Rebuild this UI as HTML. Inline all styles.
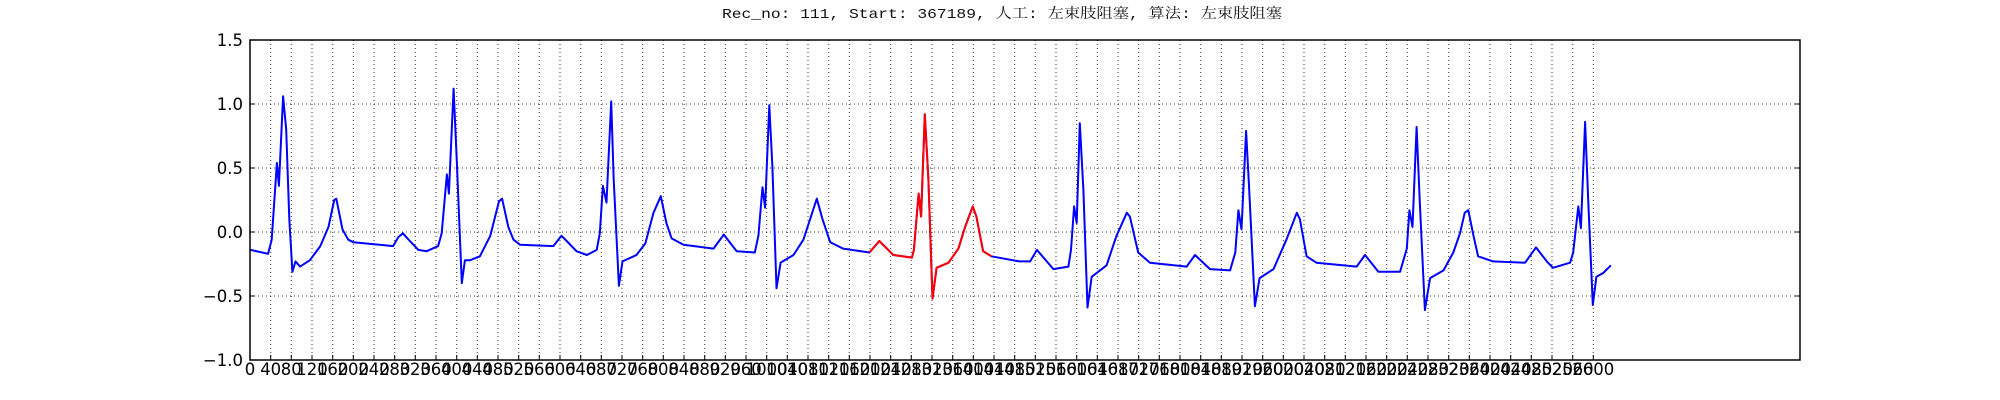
<!DOCTYPE html>
<html><head><meta charset="utf-8"><style>
html,body{margin:0;padding:0;background:#fff;}
svg{display:block;}
</style></head><body>
<svg id="chart" width="2000" height="400" viewBox="0 0 2000 400" xmlns="http://www.w3.org/2000/svg">
<rect x="0" y="0" width="2000" height="400" fill="#fff"/>
<text x="1002" y="18" text-anchor="middle" font-family="'Liberation Mono','Noto Serif CJK SC',monospace" font-size="14" fill="#111" textLength="560" lengthAdjust="spacingAndGlyphs">Rec_no: 111, Start: 367189, 人工: 左束肢阻塞, 算法: 左束肢阻塞</text>
<g id="grid"></g>
<g id="series"></g>
<rect x="250" y="40" width="1550" height="320" fill="none" stroke="#000" stroke-width="1.5"/>
<g id="axes"></g>
</svg>
<script>
const sampleIdx = [1,35,42,52,56,64,70,76,82,88,97,116,136,152,163,167,179,190,200,277,287,296,307,326,342,364,371,381,385,394,400,410,416,426,445,465,482,488,500,510,523,587,603,613,632,652,671,
677,683,690,699,704,714,721,748,765,781,795,806,816,839,897,917,942,977,
984,992,997,1005,1011,1019,1027,1052,1071,1097,1108,1123,1148,1199,1218,1245,1281,1285,1294,1299,1306,1313,1321,1329,1352,1371,1384,1399,1406,1419,1435,1489,
1510,1523,1555,1584,1589,1595,1600,1606,1613,1621,1629,1658,1677,1697,1703,1719,1742,1813,1829,1858,1897,1907,1913,1919,1928,1934,1945,1954,1981,2006,2026,2032,2045,2064,2142,2158,2184,2226,2239,2244,2250,2258,2264,2274,2284,2310,2329,2342,2351,2358,2368,2377,2406,2468,2489,2510,2522,2555,2561,2571,2576,2584,2590,2599,2606,2619,2634];
const ecgValues = [-0.14,-0.17,-0.06,0.54,0.36,1.06,0.8,0.1,-0.31,-0.23,-0.27,-0.22,-0.11,0.04,0.25,0.26,0.02,-0.06,-0.08,-0.11,-0.04,-0.01,-0.06,-0.14,-0.15,-0.11,-0.01,0.45,0.30,1.12,0.57,-0.40,-0.22,-0.22,-0.19,-0.03,0.24,0.26,0.04,-0.06,-0.10,-0.11,-0.03,-0.07,-0.15,-0.18,-0.14,
-0.01,0.36,0.23,1.02,0.41,-0.42,-0.23,-0.18,-0.09,0.15,0.28,0.07,-0.05,-0.10,-0.13,-0.02,-0.15,-0.16,
-0.03,0.35,0.19,0.99,0.51,-0.44,-0.24,-0.18,-0.06,0.26,0.10,-0.08,-0.13,-0.16,-0.07,-0.18,-0.20,-0.14,0.30,0.12,0.92,0.41,-0.52,-0.28,-0.24,-0.13,0.04,0.20,0.12,-0.15,-0.19,-0.23,
-0.23,-0.14,-0.29,-0.27,-0.14,0.20,0.07,0.85,0.33,-0.59,-0.35,-0.26,-0.03,0.15,0.12,-0.16,-0.24,-0.27,-0.18,-0.29,-0.30,-0.16,0.17,0.02,0.79,0.33,-0.58,-0.36,-0.29,-0.06,0.15,0.10,-0.19,-0.24,-0.27,-0.18,-0.31,-0.31,-0.13,0.17,0.04,0.82,0.25,-0.61,-0.36,-0.30,-0.16,-0.01,0.15,0.17,-0.03,-0.19,-0.23,-0.24,-0.12,-0.23,-0.28,-0.24,-0.16,0.20,0.03,0.86,0.25,-0.57,-0.35,-0.32,-0.26];
const highlightRange = [1199, 1435];
const yTicks = [-1.0,-0.5,0.0,0.5,1.0,1.5];
const yTickLabels = ["\u22121.0","\u22120.5","0.0","0.5","1.0","1.5"];
const xTicks = [];
for (let t = 0; t <= 2600; t += 40) xTicks.push(t);

const L=250,R=1800,T=40,B=360,XMAX=3000,YMIN=-1,YMAX=1.5;
const sx = v => L + v/XMAX*(R-L);
const sy = v => B - (v-YMIN)/(YMAX-YMIN)*(B-T);
const NS="http://www.w3.org/2000/svg";
function mk(tag, attrs, parent){const e=document.createElementNS(NS,tag);for(const k in attrs)e.setAttribute(k,attrs[k]);parent.appendChild(e);return e;}
const grid=document.getElementById('grid'), axes=document.getElementById('axes'), series=document.getElementById('series');

xTicks.forEach(t=>{
  const x=sx(t).toFixed(1);
  const g=mk('line',{x1:x,x2:x,y1:T,y2:B,stroke:'#000','stroke-width':1,'stroke-dasharray':'1,3',opacity:0.8},grid);
  
  
  const tk=mk('line',{x1:x,x2:x,y1:B,y2:B-5,stroke:'#000','stroke-width':1},axes);
  
  
  const lb=mk('text',{x:x,y:375,'text-anchor':'middle','font-family':"'DejaVu Sans','Liberation Sans',sans-serif",'font-size':16.5,fill:'#000'},axes);
  lb.textContent=String(t);
  
  
});
yTicks.forEach((t,i)=>{
  const y=sy(t).toFixed(1);
  const g=mk('line',{x1:L,x2:R,y1:y,y2:y,stroke:'#000','stroke-width':1,'stroke-dasharray':'1,3',opacity:0.8},grid);
  
  
  const tk=mk('line',{x1:L,x2:L+5,y1:y,y2:y,stroke:'#000','stroke-width':1},axes);
  
  
  const tk2=mk('line',{x1:R,x2:R-5,y1:y,y2:y,stroke:'#000','stroke-width':1},axes);
  
  
  const lb=mk('text',{x:243,y:+y+6,'text-anchor':'end','font-family':"'DejaVu Sans','Liberation Sans',sans-serif",'font-size':16.5,fill:'#000'},axes);
  lb.textContent=yTickLabels[i];
  
  
});
const pts=sampleIdx.map((x,i)=>sx(x).toFixed(1)+','+sy(ecgValues[i]).toFixed(1));
const blue=mk('polyline',{points:pts.join(' '),fill:'none',stroke:'#0000ff','stroke-width':2,'stroke-linejoin':'round'},series);


const redPts=[];
sampleIdx.forEach((x,i)=>{if(x>=highlightRange[0]&&x<=highlightRange[1])redPts.push(pts[i]);});
const red=mk('polyline',{points:redPts.join(' '),fill:'none',stroke:'#ff0000','stroke-width':2,'stroke-linejoin':'round'},series);


</script>
</body></html>
